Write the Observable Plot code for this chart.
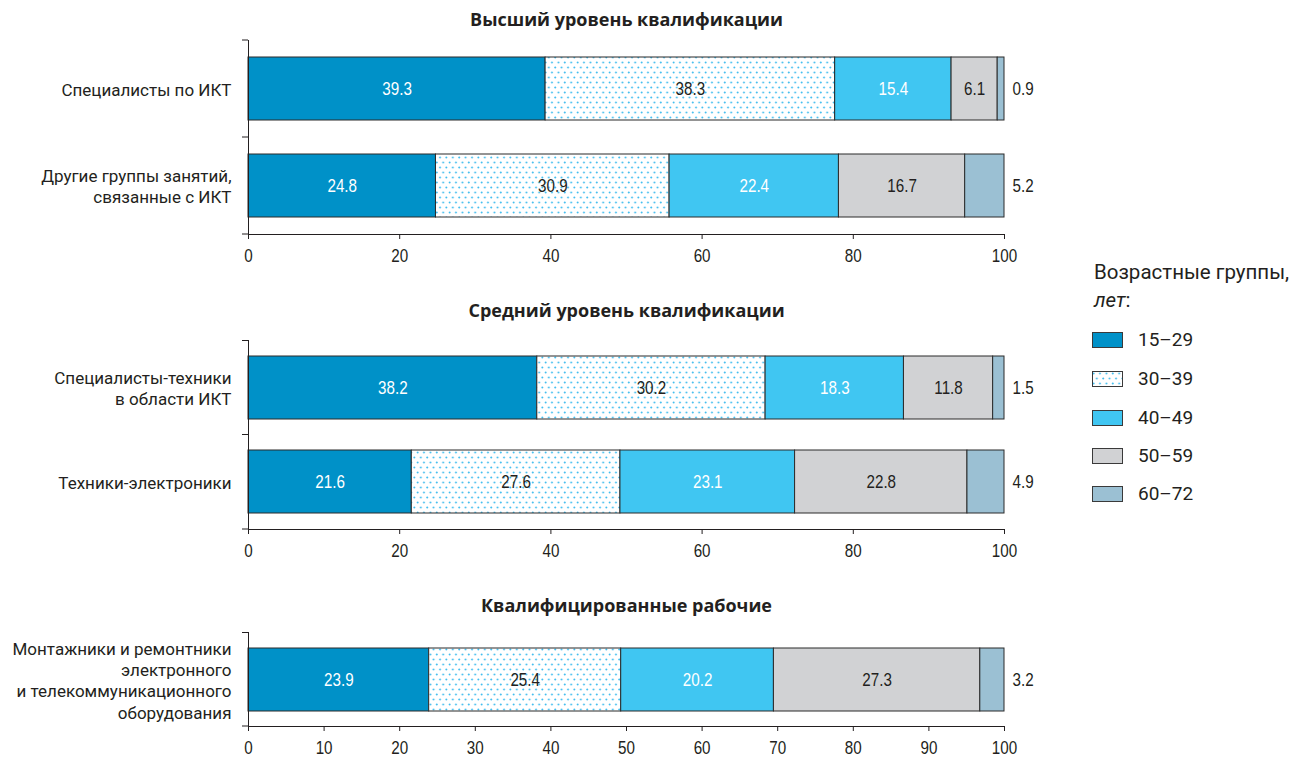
<!DOCTYPE html>
<html><head><meta charset="utf-8">
<script src="https://cdn.jsdelivr.net/npm/d3@7"></script>
<script src="https://cdn.jsdelivr.net/npm/@observablehq/plot@0.6"></script>
<style>
body{margin:0;background:#fff;}
#root{position:relative;width:1294px;height:758px;overflow:hidden;font-family:Roboto,sans-serif;color:#231f20;}
.panel{position:absolute;left:0;}
.lg{position:absolute;white-space:nowrap;font-family:Roboto,sans-serif;color:#231f20;}
</style></head><body>
<svg width="0" height="0" style="position:absolute">
<defs><pattern id="dots" patternUnits="userSpaceOnUse" width="6.4" height="10">
<rect width="6.4" height="10" fill="#fff"/>
<path d="M1.6 1.6v1.8M0.7 2.5h1.8M4.8 6.6v1.8M3.9 7.5h1.8" stroke="#3bbbee" stroke-width="1"/>
</pattern></defs></svg>
<div id="root"></div>
<script>
// ---- data ----
const ages = ["15–29", "30–39", "40–49", "50–59", "60–72"];
const colors = ["#0091c8", "url(#dots)", "#40c6f2", "#d1d2d4", "#9bc0d3"];

const title1 = "Высший уровень квалификации";
const cats1 = ["Специалисты по ИКТ", "Другие группы занятий,\nсвязанные с ИКТ"];
const vals1 = [[39.3, 38.3, 15.4, 6.1, 0.9], [24.8, 30.9, 22.4, 16.7, 5.2]];

const title2 = "Средний уровень квалификации";
const cats2 = ["Специалисты-техники\nв области ИКТ", "Техники-электроники"];
const vals2 = [[38.2, 30.2, 18.3, 11.8, 1.5], [21.6, 27.6, 23.1, 22.8, 4.9]];

const title3 = "Квалифицированные рабочие";
const cats3 = ["Монтажники и ремонтники\nэлектронного\nи телекоммуникационного\nоборудования"];
const vals3 = [[23.9, 25.4, 20.2, 27.3, 3.2]];

const ticks20 = [0, 20, 40, 60, 80, 100];
const ticks10 = [0, 10, 20, 30, 40, 50, 60, 70, 80, 90, 100];

const legendTitle = "Возрастные группы,";
const legendUnit = "лет";

// ---- drawing ----
const root = document.getElementById("root");
const NUM_FONT = "'Liberation Sans', Arial, sans-serif";
const LBL_FONT = "Roboto, sans-serif";
const TITLE_FONT = "'Open Sans', 'Noto Sans', sans-serif";
const INK = "#231f20";
const last = ages[ages.length - 1];
const whiteLbl = new Set([ages[0], ages[2]]);

function bandTicks(index, scales, values, dims) {
  const ns = "http://www.w3.org/2000/svg";
  const g = document.createElementNS(ns, "g");
  const y = scales.y;
  const bw = y.bandwidth(), step = y.step();
  const ys = y.domain().map(d => y(d) - (step - bw) / 2);
  ys.push(dims.height - dims.marginBottom);
  for (const yy of ys) {
    const l = document.createElementNS(ns, "line");
    l.setAttribute("x1", dims.marginLeft - 6);
    l.setAttribute("x2", dims.marginLeft);
    l.setAttribute("y1", yy); l.setAttribute("y2", yy);
    l.setAttribute("stroke", INK);
    g.appendChild(l);
  }
  return g;
}

// condense numeric labels horizontally (narrow font look); needs layout, so call after attach
function condenseNumbers(svg, s) {
  svg.querySelectorAll("text").forEach(t => {
    if (!/^[\d.]+$/.test(t.textContent.trim())) return;
    const w = t.getComputedTextLength();
    if (w > 0) {
      t.setAttribute("textLength", (w * s).toFixed(2));
      t.setAttribute("lengthAdjust", "spacingAndGlyphs");
    }
  });
}

function panel({title, cats, vals, ticks, frameTop, frameBottom, titleY, pi}) {
  const data = cats.flatMap((c, i) => {
    const ends = d3.cumsum(vals[i]);
    return ages.map((a, j) => ({cat: c, age: a, v: vals[i][j], end: ends[j]}));
  });
  const mT = 40, mB = 32;
  const plot = Plot.plot({
    width: 1040,
    height: mT + (frameBottom - frameTop) + mB,
    marginLeft: 248, marginRight: 36, marginTop: mT, marginBottom: mB,
    style: {fontFamily: NUM_FONT, fontSize: "19px", color: INK, background: "transparent", overflow: "visible"},
    x: {domain: [0, 100], label: null},
    y: {domain: cats, paddingInner: pi, paddingOuter: pi / 2, label: null},
    color: {domain: ages, range: colors},
    marks: [
      Plot.barX(data, Plot.stackX({x: "v", y: "cat", fill: "age", stroke: "#2b2b2b", strokeWidth: 1})),
      Plot.text(data, Plot.stackX({x: "v", y: "cat", z: "age",
        text: d => whiteLbl.has(d.age) ? d.v.toFixed(1) : null, fill: "white"})),
      Plot.text(data, Plot.stackX({x: "v", y: "cat", z: "age",
        text: d => (!whiteLbl.has(d.age) && d.age !== last) ? d.v.toFixed(1) : null, fill: INK})),
      Plot.text(data.filter(d => d.age === last), {x: "end", y: "cat", text: d => d.v.toFixed(1),
        dx: 8, textAnchor: "start", fill: INK}),
      Plot.frame({anchor: "left", stroke: INK}),
      Plot.frame({anchor: "bottom", stroke: INK}),
      bandTicks,
      Plot.axisX({ticks, tickSize: 5, tickPadding: 9, tickFormat: d => String(d), stroke: INK}),
      Plot.axisY({tickSize: 0, tickPadding: 17, fontFamily: LBL_FONT, fontSize: 17, lineHeight: 1.25}),
      Plot.text([title], {frameAnchor: "top", lineAnchor: "middle", dy: titleY - frameTop, fontFamily: TITLE_FONT,
        fontWeight: "bold", fontSize: 18, fill: INK})
    ]
  });
  plot.classList.add("panel");
  plot.style.top = (frameTop - mT) + "px";
  root.appendChild(plot);
  condenseNumbers(plot, 0.8);
}

panel({title: title1, cats: cats1, vals: vals1, ticks: ticks20, frameTop: 40, frameBottom: 234, titleY: 20, pi: 0.35});
panel({title: title2, cats: cats2, vals: vals2, ticks: ticks20, frameTop: 340, frameBottom: 529, titleY: 311, pi: 0.33});
panel({title: title3, cats: cats3, vals: vals3, ticks: ticks10, frameTop: 632, frameBottom: 726, titleY: 606, pi: 0.33});

// ---- legend ----
function addDiv(html, left, top, size) {
  const d = document.createElement("div");
  d.className = "lg";
  d.innerHTML = html;
  d.style.left = left + "px";
  d.style.top = top + "px";
  d.style.fontSize = size + "px";
  d.style.lineHeight = "1";
  root.appendChild(d);
  return d;
}
addDiv(legendTitle, 1094, 262, 20.5);
addDiv(`<i>${legendUnit}</i>:`, 1094, 290, 20.5);
const rowY = [340, 379, 418, 456, 494];
ages.forEach((a, i) => {
  addDiv(`<svg width="32" height="17" style="display:block"><rect x="0.5" y="0.5" width="30" height="15" fill="${colors[i]}" stroke="#3a3a3a"/></svg>`,
    1092, rowY[i] - 8, 10);
  addDiv(a, 1138, rowY[i] - 10, 19);
});
</script>
</body></html>
